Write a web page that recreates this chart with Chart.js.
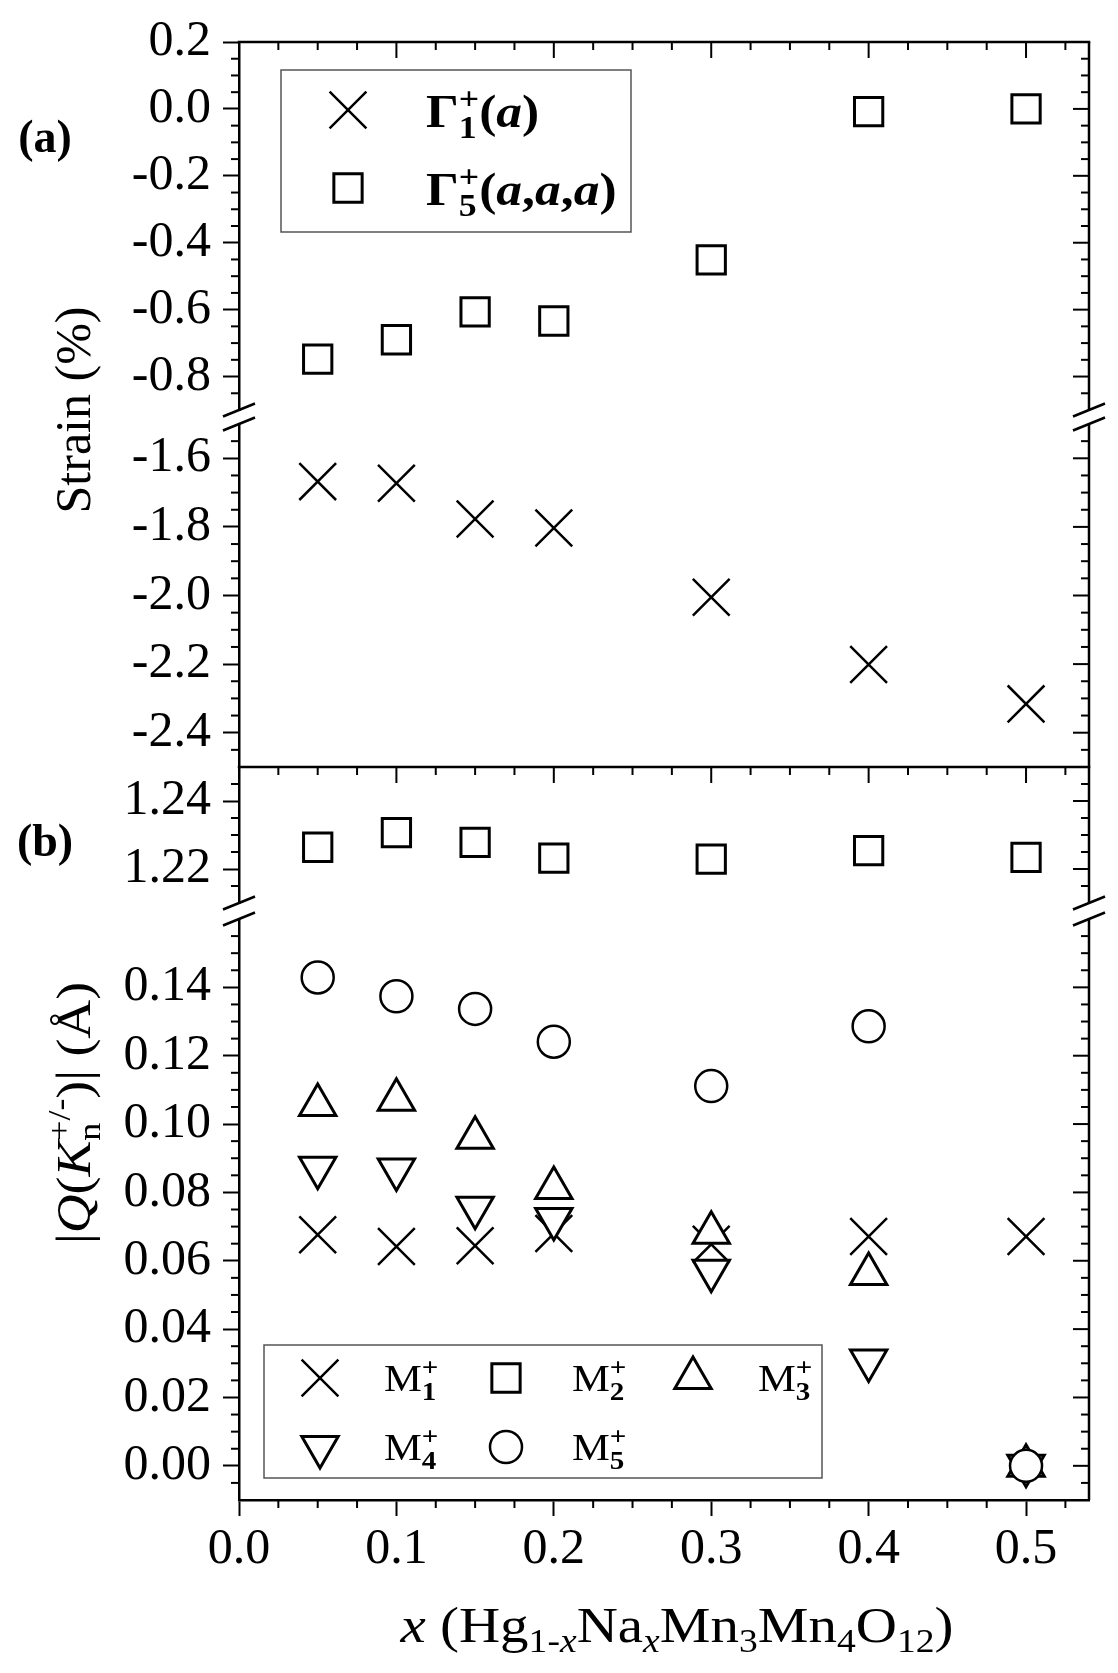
<!DOCTYPE html>
<html>
<head>
<meta charset="utf-8">
<title>Strain and mode amplitudes vs x</title>
<script src="https://cdn.jsdelivr.net/npm/chart.js@4.4.1/dist/chart.umd.min.js"></script>
<style>
  html, body { margin: 0; padding: 0; background: #fff; }
  #page { position: relative; width: 1118px; height: 1673px; }
  #page canvas { position: absolute; left: 0; top: 0; }
</style>
</head>
<body>
<div id="page">
  <canvas id="a1" width="1118" height="1673"></canvas>
  <canvas id="a2" width="1118" height="1673"></canvas>
  <canvas id="b1" width="1118" height="1673"></canvas>
  <canvas id="b2" width="1118" height="1673"></canvas>
</div>
<script>
// composition x in Hg(1-x)Na(x)Mn3Mn4O12
const xVals = [0.05, 0.1, 0.15, 0.2, 0.3, 0.4, 0.5];

// (a) strain, %
const gamma1 = [-1.668, -1.673, -1.777, -1.803, -2.005, -2.201, -2.316];
const gamma5 = [-0.748, -0.690, -0.607, -0.634, -0.451, -0.008, 0.000];

// (b) mode amplitudes |Q|, in Å
const m1 = [0.0676, 0.0642, 0.0644, 0.0680, 0.0648, 0.0671, 0.0671];
const m2 = [1.2264, 1.2307, 1.2278, 1.2232, 1.2229, 1.2254, 1.2234];
const m3 = [0.1056, 0.1071, 0.0960, 0.0813, 0.0682, 0.0561, 0.0000];
const m4 = [0.0872, 0.0867, 0.0755, 0.0722, 0.0571, 0.0308, 0.0000];
const m5 = [0.1429, 0.1374, 0.1337, 0.1241, 0.1111, 0.1286, 0.0000];

// axis ranges + tick labels (both panels have a broken y axis)
const xRange = [0, 0.54];
const xTicks = [0, 0.1, 0.2, 0.3, 0.4, 0.5];
const strainHigh = [-0.9, 0.2];
const strainHighTicks = [0.2, 0, -0.2, -0.4, -0.6, -0.8];
const strainLow = [-2.5, -1.5];
const strainLowTicks = [-1.6, -1.8, -2.0, -2.2, -2.4];
const qHigh = [1.21, 1.25];
const qHighTicks = [1.24, 1.22];
const qLow = [-0.01, 0.16];
const qLowTicks = [0.14, 0.12, 0.10, 0.08, 0.06, 0.04, 0.02, 0];

const FAM = '"Liberation Serif", "DejaVu Serif", serif';
const W = 1118, H = 1673;
const LEFT = 239, RIGHT = 1089;
const XAXIS_H = 100;
// plot area of each axis segment
const boxes = {
  a1: { top: 33, bottom: 410 },
  a2: { top: 424, bottom: 767 },
  b1: { top: 767, bottom: 903 },
  b2: { top: 919, bottom: 1500 }
};

const marker = {
  cross:  { pointStyle: 'crossRot', pointRotation: 0, pointRadius: 26, pointBorderWidth: 2.5 },
  square: { pointStyle: 'rect', pointRotation: 0, pointRadius: 20, pointBorderWidth: 3 },
  up:     { pointStyle: 'triangle', pointRotation: 0, pointRadius: 21, pointBorderWidth: 3 },
  down:   { pointStyle: 'triangle', pointRotation: 180, pointRadius: 21, pointBorderWidth: 3 },
  circle: { pointStyle: 'circle', pointRotation: 0, pointRadius: 16, pointBorderWidth: 2.5 }
};

function series(label, ys, m, order) {
  return Object.assign({
    label: label,
    data: xVals.map((x, i) => ({ x: x, y: ys[i] })),
    order: order,
    showLine: false,
    pointBackgroundColor: '#fff',
    pointBorderColor: '#000'
  }, m);
}

// --- small rich-text helper (sub/superscripts, italics) ---
const T = (t, size, st, dy) => ({ t: t, size: size, st: st || '', dy: dy || 0 });
const S = (sub, sup) => ({ stack: [sub, sup] });

function font(size, st) {
  return (st.indexOf('i') >= 0 ? 'italic ' : '') + (st.indexOf('b') >= 0 ? 'bold ' : '') + size + 'px ' + FAM;
}
function runWidth(ctx, items) {
  let w = 0;
  items.forEach(it => {
    if (it.stack) w += Math.max.apply(null, it.stack.map(s => runWidth(ctx, s)));
    else { ctx.font = font(it.size, it.st); w += ctx.measureText(it.t).width; }
  });
  return w;
}
function drawRun(ctx, items, x, y) {
  let cx = x;
  items.forEach(it => {
    if (it.stack) {
      it.stack.forEach(s => drawRun(ctx, s, cx, y));
      cx += Math.max.apply(null, it.stack.map(s => runWidth(ctx, s)));
    } else {
      ctx.font = font(it.size, it.st);
      ctx.fillText(it.t, cx, y + it.dy);
      cx += ctx.measureText(it.t).width;
    }
  });
}
function rich(ctx, items, x, y, align, rot, sx) {
  ctx.save();
  ctx.fillStyle = '#000';
  ctx.textAlign = 'left';
  ctx.textBaseline = 'alphabetic';
  ctx.translate(x, y);
  if (rot) ctx.rotate(-Math.PI / 2);
  ctx.scale(sx || 1, 1);
  const w = runWidth(ctx, items);
  drawRun(ctx, items, align === 'center' ? -w / 2 : 0, 0);
  ctx.restore();
}
function drawMarker(ctx, m, x, y) {
  ctx.save();
  ctx.strokeStyle = '#000';
  ctx.fillStyle = '#fff';
  ctx.lineWidth = m.pointBorderWidth;
  Chart.helpers.drawPoint(ctx, {
    pointStyle: m.pointStyle, rotation: m.pointRotation, radius: m.pointRadius, borderWidth: m.pointBorderWidth
  }, x, y);
  ctx.restore();
}
function legendBox(ctx, x, y, w, h) {
  ctx.save();
  ctx.fillStyle = '#fff';
  ctx.fillRect(x, y, w, h);
  ctx.strokeStyle = '#555';
  ctx.lineWidth = 1.5;
  ctx.strokeRect(x, y, w, h);
  ctx.restore();
}

// --- frame, mirrored / minor ticks and break marks ---
function minorValues(min, max, step, majors) {
  const out = [];
  const n0 = Math.ceil(min / step + 1e-6), n1 = Math.floor(max / step - 1e-6);
  for (let n = n0; n <= n1; n++) {
    const v = n * step;
    if (!majors.some(m => Math.abs(m - v) < step / 4)) out.push(v);
  }
  return out;
}

function frame(o) {
  return {
    id: 'frame',
    afterDraw(chart) {
      const ctx = chart.ctx, a = chart.chartArea, xs = chart.scales.x, ys = chart.scales.y;
      const line = (x1, y1, x2, y2, w) => {
        ctx.lineWidth = w;
        ctx.beginPath(); ctx.moveTo(x1, y1); ctx.lineTo(x2, y2); ctx.stroke();
      };
      const slash = (cx, cy) => line(cx - 16, cy + 6.5, cx + 16, cy - 6.5, 2.5);
      ctx.save();
      ctx.strokeStyle = '#000';
      ctx.lineCap = 'butt';
      line(a.right, a.top, a.right, a.bottom, 2.5);
      o.yTicks.forEach(v => {
        const p = ys.getPixelForValue(v);
        line(a.right - 16, p, a.right, p, 2);
      });
      minorValues(ys.min, ys.max, o.yMinor, o.yTicks).forEach(v => {
        const p = ys.getPixelForValue(v);
        line(a.left - 8, p, a.left, p, 2);
        line(a.right - 8, p, a.right, p, 2);
      });
      const xMinor = minorValues(xs.min, xs.max, 0.025, xTicks);
      if (o.topFrame) {
        ctx.lineCap = 'square';
        line(a.left, a.top, a.right, a.top, 2.5);
        ctx.lineCap = 'butt';
        xTicks.forEach(v => { const p = xs.getPixelForValue(v); line(p, a.top, p, a.top + 16, 2); });
        xMinor.forEach(v => { const p = xs.getPixelForValue(v); line(p, a.top, p, a.top + 8, 2); });
      }
      if (o.bottomMinor) {
        xMinor.forEach(v => { const p = xs.getPixelForValue(v); line(p, a.bottom, p, a.bottom + 8, 2); });
      }
      if (o.breakTop) { slash(a.left, a.top); slash(a.right, a.top); }
      if (o.breakBottom) { slash(a.left, a.bottom); slash(a.right, a.bottom); }
      ctx.restore();
      if (o.extra) o.extra(ctx, chart);
    }
  };
}

const gridOpts = { drawOnChartArea: false, drawTicks: true, tickLength: 16, tickWidth: 2, tickColor: '#000', color: '#000' };
const borderOpts = { display: true, color: '#000', width: 2.5 };

function panel(id, yRange, yTicks, yDec, yMinor, datasets, opts) {
  const box = boxes[id];
  const showX = !!opts.showX;
  const xScale = {
    type: 'linear', min: xRange[0], max: xRange[1], display: showX,
    afterBuildTicks: s => { s.ticks = xTicks.map(v => ({ value: v })); },
    ticks: { autoSkip: false, maxRotation: 0, padding: 4, color: '#000', font: { family: FAM, size: 50 }, callback: v => v.toFixed(1) },
    grid: gridOpts,
    border: borderOpts
  };
  if (showX) xScale.afterFit = s => { s.height = XAXIS_H; };
  return new Chart(document.getElementById(id), {
    type: 'scatter',
    data: { datasets: datasets },
    options: {
      responsive: false,
      animation: false,
      devicePixelRatio: 1,
      events: [],
      layout: { padding: { left: 0, right: W - RIGHT, top: box.top, bottom: H - box.bottom - (showX ? XAXIS_H : 0) } },
      plugins: { legend: { display: false }, tooltip: { enabled: false } },
      scales: {
        x: xScale,
        y: {
          type: 'linear', min: yRange[0], max: yRange[1],
          afterBuildTicks: s => { s.ticks = yTicks.map(v => ({ value: v })); },
          afterFit: s => { s.width = LEFT; },
          ticks: { autoSkip: false, padding: 12, color: '#000', font: { family: FAM, size: 50 }, callback: v => v.toFixed(yDec) },
          grid: gridOpts,
          border: borderOpts
        }
      }
    },
    plugins: [frame(Object.assign({ yTicks: yTicks, yMinor: yMinor }, opts))]
  });
}

const SX = 1.12;

panel('a1', strainHigh, strainHighTicks, 1, 0.05,
  [series('Γ5+(a,a,a)', gamma5, marker.square, 1)],
  {
    topFrame: true, breakBottom: true,
    extra: ctx => {
      rich(ctx, [T('Strain (%)', 50)], 90, 410, 'center', true, 1);
      rich(ctx, [T('(a)', 46, 'b')], 45, 152, 'center', false, 1);
      legendBox(ctx, 281, 70, 350, 162);
      drawMarker(ctx, marker.cross, 348, 110);
      drawMarker(ctx, marker.square, 348, 188);
      rich(ctx, [T('Γ', 46, 'b'), S([T('1', 32, 'b', 11)], [T('+', 32, 'b', -18)]),
                 T('(', 46, 'b'), T('a', 46, 'bi'), T(')', 46, 'b')], 426, 127, 'left', false, SX);
      rich(ctx, [T('Γ', 46, 'b'), S([T('5', 32, 'b', 11)], [T('+', 32, 'b', -18)]),
                 T('(', 46, 'b'), T('a', 46, 'bi'), T(',', 46, 'b'), T('a', 46, 'bi'), T(',', 46, 'b'),
                 T('a', 46, 'bi'), T(')', 46, 'b')], 426, 205, 'left', false, SX);
    }
  });

panel('a2', strainLow, strainLowTicks, 1, 0.05,
  [series('Γ1+(a)', gamma1, marker.cross, 1)],
  { breakTop: true });

panel('b1', qHigh, qHighTicks, 2, 0.005,
  [series('M2+', m2, marker.square, 1)],
  {
    topFrame: true, breakBottom: true,
    extra: ctx => { rich(ctx, [T('(b)', 46, 'b')], 45, 856, 'center', false, 1); }
  });

panel('b2', qLow, qLowTicks, 2, 0.005,
  [
    series('M5+', m5, marker.circle, 1),
    series('M4+', m4, marker.down, 2),
    series('M3+', m3, marker.up, 3),
    series('M1+', m1, marker.cross, 5)
  ],
  {
    showX: true, breakTop: true, bottomMinor: true,
    extra: ctx => {
      rich(ctx, [T('|', 48), T('Q', 48, 'i'), T('(', 48), T('K', 48, 'i'),
                 S([T('n', 32, '', 10)], [T('+/-', 32, '', -20)]), T(')|', 48), T(' (Å)', 48)],
           90, 1113, 'center', true, SX);
      rich(ctx, [T('x', 50, 'i'), T(' (Hg', 50), T('1-', 33, '', 10), T('x', 33, 'i', 10), T('Na', 50),
                 T('x', 33, 'i', 10), T('Mn', 50), T('3', 33, '', 10), T('Mn', 50), T('4', 33, '', 10),
                 T('O', 50), T('12', 33, '', 10), T(')', 50)], 677, 1642, 'center', false, 1.14);
      legendBox(ctx, 264, 1345, 558, 133);
      const rows = [1378, 1447];
      const entries = [
        [marker.cross, '1', 320, 384, 0], [marker.square, '2', 506, 572, 0], [marker.up, '3', 693, 758, 0],
        [marker.down, '4', 320, 384, 1], [marker.circle, '5', 506, 572, 1]
      ];
      entries.forEach(e => {
        const y = rows[e[4]];
        drawMarker(ctx, e[0], e[2], y);
        rich(ctx, [T('M', 38), S([T(e[1], 26, 'b', 9)], [T('+', 26, 'b', -15)])], e[3], y + 13, 'left', false, SX);
      });
    }
  });
</script>
</body>
</html>
